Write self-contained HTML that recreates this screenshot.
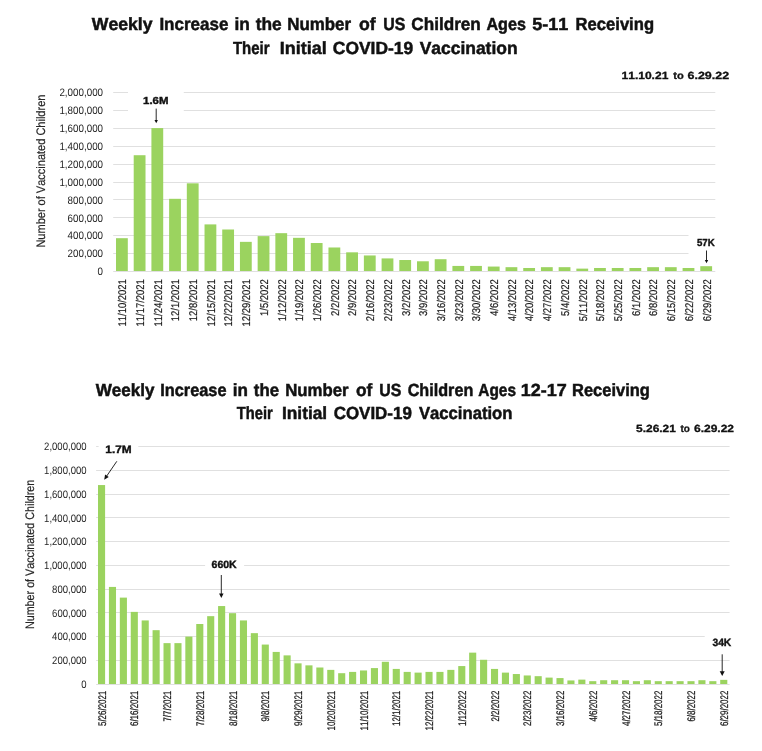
<!DOCTYPE html>
<html><head><meta charset="utf-8"><title>Weekly Increase in the Number of US Children Receiving Their Initial COVID-19 Vaccination</title>
<style>
html,body{margin:0;padding:0;background:#fff;}
svg{display:block;font-family:"Liberation Sans",sans-serif;font-kerning:none;}
svg text{font-kerning:none;white-space:pre;text-rendering:geometricPrecision;}
</style></head><body>
<svg width="762" height="751" viewBox="0 0 762 751">
<rect width="762" height="751" fill="#fff"/>
<line x1="113.20" y1="92.5" x2="715.30" y2="92.5" stroke="#e0e0e0" stroke-width="1"/>
<line x1="113.20" y1="110.5" x2="715.30" y2="110.5" stroke="#e0e0e0" stroke-width="1"/>
<line x1="113.20" y1="128.5" x2="715.30" y2="128.5" stroke="#e0e0e0" stroke-width="1"/>
<line x1="113.20" y1="146.5" x2="715.30" y2="146.5" stroke="#e0e0e0" stroke-width="1"/>
<line x1="113.20" y1="164.5" x2="715.30" y2="164.5" stroke="#e0e0e0" stroke-width="1"/>
<line x1="113.20" y1="182.5" x2="715.30" y2="182.5" stroke="#e0e0e0" stroke-width="1"/>
<line x1="113.20" y1="199.5" x2="715.30" y2="199.5" stroke="#e0e0e0" stroke-width="1"/>
<line x1="113.20" y1="217.5" x2="715.30" y2="217.5" stroke="#e0e0e0" stroke-width="1"/>
<line x1="113.20" y1="235.5" x2="715.30" y2="235.5" stroke="#e0e0e0" stroke-width="1"/>
<line x1="113.20" y1="253.5" x2="715.30" y2="253.5" stroke="#e0e0e0" stroke-width="1"/>
<line x1="113.20" y1="271.5" x2="715.30" y2="271.5" stroke="#e0e0e0" stroke-width="1"/>
<rect x="128.00" y="84.00" width="55.75" height="34.00" fill="#fff"/>
<rect x="688.50" y="230.00" width="30.00" height="28.00" fill="#fff"/>
<rect x="116.00" y="238.19" width="11.80" height="32.81" fill="#9bd35f"/>
<rect x="133.71" y="155.22" width="11.80" height="115.78" fill="#9bd35f"/>
<rect x="151.41" y="128.10" width="11.80" height="142.90" fill="#9bd35f"/>
<rect x="169.12" y="198.81" width="11.80" height="72.19" fill="#9bd35f"/>
<rect x="186.82" y="183.32" width="11.80" height="87.68" fill="#9bd35f"/>
<rect x="204.53" y="224.40" width="11.80" height="46.60" fill="#9bd35f"/>
<rect x="222.24" y="229.50" width="11.80" height="41.50" fill="#9bd35f"/>
<rect x="239.94" y="241.85" width="11.80" height="29.15" fill="#9bd35f"/>
<rect x="257.65" y="236.13" width="11.80" height="34.87" fill="#9bd35f"/>
<rect x="275.35" y="233.17" width="11.80" height="37.83" fill="#9bd35f"/>
<rect x="293.06" y="237.83" width="11.80" height="33.17" fill="#9bd35f"/>
<rect x="310.77" y="243.02" width="11.80" height="27.98" fill="#9bd35f"/>
<rect x="328.47" y="247.49" width="11.80" height="23.51" fill="#9bd35f"/>
<rect x="346.18" y="252.33" width="11.80" height="18.67" fill="#9bd35f"/>
<rect x="363.88" y="255.46" width="11.80" height="15.54" fill="#9bd35f"/>
<rect x="381.59" y="258.41" width="11.80" height="12.59" fill="#9bd35f"/>
<rect x="399.30" y="260.02" width="11.80" height="10.98" fill="#9bd35f"/>
<rect x="417.00" y="261.28" width="11.80" height="9.72" fill="#9bd35f"/>
<rect x="434.71" y="259.22" width="11.80" height="11.78" fill="#9bd35f"/>
<rect x="452.41" y="265.93" width="11.80" height="5.07" fill="#9bd35f"/>
<rect x="470.12" y="265.93" width="11.80" height="5.07" fill="#9bd35f"/>
<rect x="487.83" y="266.56" width="11.80" height="4.44" fill="#9bd35f"/>
<rect x="505.53" y="267.18" width="11.80" height="3.82" fill="#9bd35f"/>
<rect x="523.24" y="267.99" width="11.80" height="3.01" fill="#9bd35f"/>
<rect x="540.94" y="267.18" width="11.80" height="3.82" fill="#9bd35f"/>
<rect x="558.65" y="267.18" width="11.80" height="3.82" fill="#9bd35f"/>
<rect x="576.36" y="268.62" width="11.80" height="2.38" fill="#9bd35f"/>
<rect x="594.06" y="267.99" width="11.80" height="3.01" fill="#9bd35f"/>
<rect x="611.77" y="267.99" width="11.80" height="3.01" fill="#9bd35f"/>
<rect x="629.47" y="267.99" width="11.80" height="3.01" fill="#9bd35f"/>
<rect x="647.18" y="267.18" width="11.80" height="3.82" fill="#9bd35f"/>
<rect x="664.89" y="267.18" width="11.80" height="3.82" fill="#9bd35f"/>
<rect x="682.59" y="267.99" width="11.80" height="3.01" fill="#9bd35f"/>
<rect x="700.30" y="266.20" width="11.80" height="4.80" fill="#9bd35f"/>
<text x="91.83" y="29.90" font-size="17.6" font-weight="700" stroke="#111" stroke-width="0.5" fill="#111" textLength="60.71" lengthAdjust="spacingAndGlyphs">Weekly</text>
<text x="159.41" y="29.90" font-size="17.6" font-weight="700" stroke="#111" stroke-width="0.5" fill="#111" textLength="68.92" lengthAdjust="spacingAndGlyphs">Increase</text>
<text x="234.44" y="29.90" font-size="17.6" font-weight="700" stroke="#111" stroke-width="0.5" fill="#111" textLength="15.38" lengthAdjust="spacingAndGlyphs">in</text>
<text x="255.64" y="29.90" font-size="17.6" font-weight="700" stroke="#111" stroke-width="0.5" fill="#111" textLength="26.00" lengthAdjust="spacingAndGlyphs">the</text>
<text x="287.22" y="29.90" font-size="17.6" font-weight="700" stroke="#111" stroke-width="0.5" fill="#111" textLength="63.89" lengthAdjust="spacingAndGlyphs">Number</text>
<text x="359.06" y="29.90" font-size="17.6" font-weight="700" stroke="#111" stroke-width="0.5" fill="#111" textLength="16.65" lengthAdjust="spacingAndGlyphs">of</text>
<text x="383.20" y="29.90" font-size="17.6" font-weight="700" stroke="#111" stroke-width="0.5" fill="#111" textLength="22.08" lengthAdjust="spacingAndGlyphs">US</text>
<text x="411.35" y="29.90" font-size="17.6" font-weight="700" stroke="#111" stroke-width="0.5" fill="#111" textLength="69.46" lengthAdjust="spacingAndGlyphs">Children</text>
<text x="486.45" y="29.90" font-size="17.6" font-weight="700" stroke="#111" stroke-width="0.5" fill="#111" textLength="39.46" lengthAdjust="spacingAndGlyphs">Ages</text>
<text x="532.20" y="29.90" font-size="17.6" font-weight="700" stroke="#111" stroke-width="0.5" fill="#111" textLength="36.06" lengthAdjust="spacingAndGlyphs">5-11</text>
<text x="575.54" y="29.90" font-size="17.6" font-weight="700" stroke="#111" stroke-width="0.5" fill="#111" textLength="78.52" lengthAdjust="spacingAndGlyphs">Receiving</text>
<text x="232.88" y="54.10" font-size="17.6" font-weight="700" stroke="#111" stroke-width="0.5" fill="#111" textLength="36.59" lengthAdjust="spacingAndGlyphs">Their</text>
<text x="279.85" y="54.10" font-size="17.6" font-weight="700" stroke="#111" stroke-width="0.5" fill="#111" textLength="46.87" lengthAdjust="spacingAndGlyphs">Initial</text>
<text x="332.84" y="54.10" font-size="17.6" font-weight="700" stroke="#111" stroke-width="0.5" fill="#111" textLength="80.36" lengthAdjust="spacingAndGlyphs">COVID-19</text>
<text x="419.63" y="54.10" font-size="17.6" font-weight="700" stroke="#111" stroke-width="0.5" fill="#111" textLength="98.00" lengthAdjust="spacingAndGlyphs">Vaccination</text>
<text x="621.49" y="78.80" font-size="10.4" font-weight="700" stroke="#111" stroke-width="0.3" fill="#111" textLength="46.89" lengthAdjust="spacingAndGlyphs">11.10.21</text>
<text x="673.31" y="78.80" font-size="10.4" font-weight="700" stroke="#111" stroke-width="0.3" fill="#111" textLength="10.47" lengthAdjust="spacingAndGlyphs">to</text>
<text x="687.49" y="78.80" font-size="10.4" font-weight="700" stroke="#111" stroke-width="0.3" fill="#111" textLength="41.66" lengthAdjust="spacingAndGlyphs">6.29.22</text>
<text x="97.62" y="275.20" font-size="10.9" fill="#262626" textLength="5.46" lengthAdjust="spacingAndGlyphs">0</text>
<text x="67.59" y="257.30" font-size="10.9" fill="#262626" textLength="35.49" lengthAdjust="spacingAndGlyphs">200,000</text>
<text x="67.59" y="239.40" font-size="10.9" fill="#262626" textLength="35.49" lengthAdjust="spacingAndGlyphs">400,000</text>
<text x="67.59" y="221.50" font-size="10.9" fill="#262626" textLength="35.49" lengthAdjust="spacingAndGlyphs">600,000</text>
<text x="67.59" y="203.60" font-size="10.9" fill="#262626" textLength="35.49" lengthAdjust="spacingAndGlyphs">800,000</text>
<text x="59.41" y="185.70" font-size="10.9" fill="#262626" textLength="43.68" lengthAdjust="spacingAndGlyphs">1,000,000</text>
<text x="59.41" y="167.80" font-size="10.9" fill="#262626" textLength="43.68" lengthAdjust="spacingAndGlyphs">1,200,000</text>
<text x="59.41" y="149.90" font-size="10.9" fill="#262626" textLength="43.68" lengthAdjust="spacingAndGlyphs">1,400,000</text>
<text x="59.41" y="132.00" font-size="10.9" fill="#262626" textLength="43.68" lengthAdjust="spacingAndGlyphs">1,600,000</text>
<text x="59.41" y="114.10" font-size="10.9" fill="#262626" textLength="43.68" lengthAdjust="spacingAndGlyphs">1,800,000</text>
<text x="59.41" y="96.20" font-size="10.9" fill="#262626" textLength="43.68" lengthAdjust="spacingAndGlyphs">2,000,000</text>
<text transform="translate(45.00 247.60) rotate(-90)" x="0" y="0" font-size="12.3" stroke="#262626" stroke-width="0.2" fill="#262626" textLength="153.02" lengthAdjust="spacingAndGlyphs">Number of Vaccinated Children</text>
<text transform="translate(126.20 326.52) rotate(-90)" x="0" y="0" font-size="11.2" stroke="#1a1a1a" stroke-width="0.2" fill="#1a1a1a" textLength="47.38" lengthAdjust="spacingAndGlyphs">11/10/2021</text>
<text transform="translate(143.91 326.52) rotate(-90)" x="0" y="0" font-size="11.2" stroke="#1a1a1a" stroke-width="0.2" fill="#1a1a1a" textLength="47.38" lengthAdjust="spacingAndGlyphs">11/17/2021</text>
<text transform="translate(161.61 326.52) rotate(-90)" x="0" y="0" font-size="11.2" stroke="#1a1a1a" stroke-width="0.2" fill="#1a1a1a" textLength="47.38" lengthAdjust="spacingAndGlyphs">11/24/2021</text>
<text transform="translate(179.32 321.26) rotate(-90)" x="0" y="0" font-size="11.2" stroke="#1a1a1a" stroke-width="0.2" fill="#1a1a1a" textLength="42.12" lengthAdjust="spacingAndGlyphs">12/1/2021</text>
<text transform="translate(197.02 321.26) rotate(-90)" x="0" y="0" font-size="11.2" stroke="#1a1a1a" stroke-width="0.2" fill="#1a1a1a" textLength="42.12" lengthAdjust="spacingAndGlyphs">12/8/2021</text>
<text transform="translate(214.73 326.52) rotate(-90)" x="0" y="0" font-size="11.2" stroke="#1a1a1a" stroke-width="0.2" fill="#1a1a1a" textLength="47.38" lengthAdjust="spacingAndGlyphs">12/15/2021</text>
<text transform="translate(232.44 326.52) rotate(-90)" x="0" y="0" font-size="11.2" stroke="#1a1a1a" stroke-width="0.2" fill="#1a1a1a" textLength="47.38" lengthAdjust="spacingAndGlyphs">12/22/2021</text>
<text transform="translate(250.14 326.52) rotate(-90)" x="0" y="0" font-size="11.2" stroke="#1a1a1a" stroke-width="0.2" fill="#1a1a1a" textLength="47.38" lengthAdjust="spacingAndGlyphs">12/29/2021</text>
<text transform="translate(267.85 315.98) rotate(-90)" x="0" y="0" font-size="11.2" stroke="#1a1a1a" stroke-width="0.2" fill="#1a1a1a" textLength="36.85" lengthAdjust="spacingAndGlyphs">1/5/2022</text>
<text transform="translate(285.55 321.24) rotate(-90)" x="0" y="0" font-size="11.2" stroke="#1a1a1a" stroke-width="0.2" fill="#1a1a1a" textLength="42.12" lengthAdjust="spacingAndGlyphs">1/12/2022</text>
<text transform="translate(303.26 321.24) rotate(-90)" x="0" y="0" font-size="11.2" stroke="#1a1a1a" stroke-width="0.2" fill="#1a1a1a" textLength="42.12" lengthAdjust="spacingAndGlyphs">1/19/2022</text>
<text transform="translate(320.97 321.24) rotate(-90)" x="0" y="0" font-size="11.2" stroke="#1a1a1a" stroke-width="0.2" fill="#1a1a1a" textLength="42.12" lengthAdjust="spacingAndGlyphs">1/26/2022</text>
<text transform="translate(338.67 315.98) rotate(-90)" x="0" y="0" font-size="11.2" stroke="#1a1a1a" stroke-width="0.2" fill="#1a1a1a" textLength="36.85" lengthAdjust="spacingAndGlyphs">2/2/2022</text>
<text transform="translate(356.38 315.98) rotate(-90)" x="0" y="0" font-size="11.2" stroke="#1a1a1a" stroke-width="0.2" fill="#1a1a1a" textLength="36.85" lengthAdjust="spacingAndGlyphs">2/9/2022</text>
<text transform="translate(374.08 321.24) rotate(-90)" x="0" y="0" font-size="11.2" stroke="#1a1a1a" stroke-width="0.2" fill="#1a1a1a" textLength="42.12" lengthAdjust="spacingAndGlyphs">2/16/2022</text>
<text transform="translate(391.79 321.24) rotate(-90)" x="0" y="0" font-size="11.2" stroke="#1a1a1a" stroke-width="0.2" fill="#1a1a1a" textLength="42.12" lengthAdjust="spacingAndGlyphs">2/23/2022</text>
<text transform="translate(409.50 315.98) rotate(-90)" x="0" y="0" font-size="11.2" stroke="#1a1a1a" stroke-width="0.2" fill="#1a1a1a" textLength="36.85" lengthAdjust="spacingAndGlyphs">3/2/2022</text>
<text transform="translate(427.20 315.98) rotate(-90)" x="0" y="0" font-size="11.2" stroke="#1a1a1a" stroke-width="0.2" fill="#1a1a1a" textLength="36.85" lengthAdjust="spacingAndGlyphs">3/9/2022</text>
<text transform="translate(444.91 321.24) rotate(-90)" x="0" y="0" font-size="11.2" stroke="#1a1a1a" stroke-width="0.2" fill="#1a1a1a" textLength="42.12" lengthAdjust="spacingAndGlyphs">3/16/2022</text>
<text transform="translate(462.61 321.24) rotate(-90)" x="0" y="0" font-size="11.2" stroke="#1a1a1a" stroke-width="0.2" fill="#1a1a1a" textLength="42.12" lengthAdjust="spacingAndGlyphs">3/23/2022</text>
<text transform="translate(480.32 321.24) rotate(-90)" x="0" y="0" font-size="11.2" stroke="#1a1a1a" stroke-width="0.2" fill="#1a1a1a" textLength="42.12" lengthAdjust="spacingAndGlyphs">3/30/2022</text>
<text transform="translate(498.03 315.98) rotate(-90)" x="0" y="0" font-size="11.2" stroke="#1a1a1a" stroke-width="0.2" fill="#1a1a1a" textLength="36.85" lengthAdjust="spacingAndGlyphs">4/6/2022</text>
<text transform="translate(515.73 321.24) rotate(-90)" x="0" y="0" font-size="11.2" stroke="#1a1a1a" stroke-width="0.2" fill="#1a1a1a" textLength="42.12" lengthAdjust="spacingAndGlyphs">4/13/2022</text>
<text transform="translate(533.44 321.24) rotate(-90)" x="0" y="0" font-size="11.2" stroke="#1a1a1a" stroke-width="0.2" fill="#1a1a1a" textLength="42.12" lengthAdjust="spacingAndGlyphs">4/20/2022</text>
<text transform="translate(551.14 321.24) rotate(-90)" x="0" y="0" font-size="11.2" stroke="#1a1a1a" stroke-width="0.2" fill="#1a1a1a" textLength="42.12" lengthAdjust="spacingAndGlyphs">4/27/2022</text>
<text transform="translate(568.85 315.98) rotate(-90)" x="0" y="0" font-size="11.2" stroke="#1a1a1a" stroke-width="0.2" fill="#1a1a1a" textLength="36.85" lengthAdjust="spacingAndGlyphs">5/4/2022</text>
<text transform="translate(586.56 321.24) rotate(-90)" x="0" y="0" font-size="11.2" stroke="#1a1a1a" stroke-width="0.2" fill="#1a1a1a" textLength="42.12" lengthAdjust="spacingAndGlyphs">5/11/2022</text>
<text transform="translate(604.26 321.24) rotate(-90)" x="0" y="0" font-size="11.2" stroke="#1a1a1a" stroke-width="0.2" fill="#1a1a1a" textLength="42.12" lengthAdjust="spacingAndGlyphs">5/18/2022</text>
<text transform="translate(621.97 321.24) rotate(-90)" x="0" y="0" font-size="11.2" stroke="#1a1a1a" stroke-width="0.2" fill="#1a1a1a" textLength="42.12" lengthAdjust="spacingAndGlyphs">5/25/2022</text>
<text transform="translate(639.67 315.98) rotate(-90)" x="0" y="0" font-size="11.2" stroke="#1a1a1a" stroke-width="0.2" fill="#1a1a1a" textLength="36.85" lengthAdjust="spacingAndGlyphs">6/1/2022</text>
<text transform="translate(657.38 315.98) rotate(-90)" x="0" y="0" font-size="11.2" stroke="#1a1a1a" stroke-width="0.2" fill="#1a1a1a" textLength="36.85" lengthAdjust="spacingAndGlyphs">6/8/2022</text>
<text transform="translate(675.09 321.24) rotate(-90)" x="0" y="0" font-size="11.2" stroke="#1a1a1a" stroke-width="0.2" fill="#1a1a1a" textLength="42.12" lengthAdjust="spacingAndGlyphs">6/15/2022</text>
<text transform="translate(692.79 321.24) rotate(-90)" x="0" y="0" font-size="11.2" stroke="#1a1a1a" stroke-width="0.2" fill="#1a1a1a" textLength="42.12" lengthAdjust="spacingAndGlyphs">6/22/2022</text>
<text transform="translate(710.50 321.24) rotate(-90)" x="0" y="0" font-size="11.2" stroke="#1a1a1a" stroke-width="0.2" fill="#1a1a1a" textLength="42.12" lengthAdjust="spacingAndGlyphs">6/29/2022</text>
<text x="143.08" y="104.00" font-size="10.2" font-weight="700" stroke="#111" stroke-width="0.4" fill="#111" textLength="25.38" lengthAdjust="spacingAndGlyphs">1.6M</text>
<line x1="156.20" y1="108.60" x2="156.20" y2="120.90" stroke="#111" stroke-width="0.9"/>
<polygon points="156.20,123.30 154.50,119.90 157.90,119.90" fill="#111"/>
<text x="697.00" y="245.60" font-size="10.2" font-weight="700" stroke="#111" stroke-width="0.4" fill="#111" textLength="17.69" lengthAdjust="spacingAndGlyphs">57K</text>
<line x1="706.50" y1="250.50" x2="706.50" y2="260.90" stroke="#111" stroke-width="0.9"/>
<polygon points="706.50,263.30 704.80,259.90 708.20,259.90" fill="#111"/>
<line x1="96.10" y1="446.5" x2="729.60" y2="446.5" stroke="#e0e0e0" stroke-width="1"/>
<line x1="96.10" y1="470.5" x2="729.60" y2="470.5" stroke="#e0e0e0" stroke-width="1"/>
<line x1="96.10" y1="494.5" x2="729.60" y2="494.5" stroke="#e0e0e0" stroke-width="1"/>
<line x1="96.10" y1="517.5" x2="729.60" y2="517.5" stroke="#e0e0e0" stroke-width="1"/>
<line x1="96.10" y1="541.5" x2="729.60" y2="541.5" stroke="#e0e0e0" stroke-width="1"/>
<line x1="96.10" y1="565.5" x2="729.60" y2="565.5" stroke="#e0e0e0" stroke-width="1"/>
<line x1="96.10" y1="589.5" x2="729.60" y2="589.5" stroke="#e0e0e0" stroke-width="1"/>
<line x1="96.10" y1="612.5" x2="729.60" y2="612.5" stroke="#e0e0e0" stroke-width="1"/>
<line x1="96.10" y1="636.5" x2="729.60" y2="636.5" stroke="#e0e0e0" stroke-width="1"/>
<line x1="96.10" y1="660.5" x2="729.60" y2="660.5" stroke="#e0e0e0" stroke-width="1"/>
<line x1="96.10" y1="684.5" x2="729.60" y2="684.5" stroke="#e0e0e0" stroke-width="1"/>
<rect x="98.60" y="436.00" width="39.70" height="24.00" fill="#fff"/>
<rect x="205.10" y="555.00" width="39.00" height="21.00" fill="#fff"/>
<rect x="704.70" y="629.00" width="30.00" height="21.00" fill="#fff"/>
<rect x="98.00" y="485.06" width="7.10" height="198.94" fill="#9bd35f"/>
<rect x="108.92" y="586.92" width="7.10" height="97.08" fill="#9bd35f"/>
<rect x="119.83" y="597.61" width="7.10" height="86.39" fill="#9bd35f"/>
<rect x="130.75" y="611.88" width="7.10" height="72.12" fill="#9bd35f"/>
<rect x="141.66" y="620.43" width="7.10" height="63.57" fill="#9bd35f"/>
<rect x="152.58" y="630.18" width="7.10" height="53.82" fill="#9bd35f"/>
<rect x="163.50" y="643.13" width="7.10" height="40.87" fill="#9bd35f"/>
<rect x="174.41" y="643.13" width="7.10" height="40.87" fill="#9bd35f"/>
<rect x="185.33" y="636.60" width="7.10" height="47.40" fill="#9bd35f"/>
<rect x="196.24" y="624.00" width="7.10" height="60.00" fill="#9bd35f"/>
<rect x="207.16" y="616.16" width="7.10" height="67.84" fill="#9bd35f"/>
<rect x="218.08" y="606.05" width="7.10" height="77.95" fill="#9bd35f"/>
<rect x="228.99" y="613.18" width="7.10" height="70.82" fill="#9bd35f"/>
<rect x="239.91" y="620.43" width="7.10" height="63.57" fill="#9bd35f"/>
<rect x="250.82" y="633.15" width="7.10" height="50.85" fill="#9bd35f"/>
<rect x="261.74" y="644.56" width="7.10" height="39.44" fill="#9bd35f"/>
<rect x="272.66" y="651.93" width="7.10" height="32.07" fill="#9bd35f"/>
<rect x="283.57" y="655.38" width="7.10" height="28.62" fill="#9bd35f"/>
<rect x="294.49" y="663.34" width="7.10" height="20.66" fill="#9bd35f"/>
<rect x="305.40" y="665.36" width="7.10" height="18.64" fill="#9bd35f"/>
<rect x="316.32" y="667.50" width="7.10" height="16.50" fill="#9bd35f"/>
<rect x="327.24" y="669.88" width="7.10" height="14.12" fill="#9bd35f"/>
<rect x="338.15" y="673.20" width="7.10" height="10.80" fill="#9bd35f"/>
<rect x="349.07" y="671.90" width="7.10" height="12.10" fill="#9bd35f"/>
<rect x="359.98" y="670.47" width="7.10" height="13.53" fill="#9bd35f"/>
<rect x="370.90" y="668.09" width="7.10" height="15.91" fill="#9bd35f"/>
<rect x="381.82" y="661.79" width="7.10" height="22.21" fill="#9bd35f"/>
<rect x="392.73" y="668.92" width="7.10" height="15.08" fill="#9bd35f"/>
<rect x="403.65" y="671.90" width="7.10" height="12.10" fill="#9bd35f"/>
<rect x="414.56" y="672.61" width="7.10" height="11.39" fill="#9bd35f"/>
<rect x="425.48" y="671.90" width="7.10" height="12.10" fill="#9bd35f"/>
<rect x="436.40" y="671.90" width="7.10" height="12.10" fill="#9bd35f"/>
<rect x="447.31" y="669.88" width="7.10" height="14.12" fill="#9bd35f"/>
<rect x="458.23" y="666.07" width="7.10" height="17.93" fill="#9bd35f"/>
<rect x="469.14" y="652.64" width="7.10" height="31.36" fill="#9bd35f"/>
<rect x="480.06" y="659.77" width="7.10" height="24.23" fill="#9bd35f"/>
<rect x="490.98" y="668.92" width="7.10" height="15.08" fill="#9bd35f"/>
<rect x="501.89" y="672.61" width="7.10" height="11.39" fill="#9bd35f"/>
<rect x="512.81" y="674.04" width="7.10" height="9.96" fill="#9bd35f"/>
<rect x="523.72" y="675.46" width="7.10" height="8.54" fill="#9bd35f"/>
<rect x="534.64" y="676.17" width="7.10" height="7.83" fill="#9bd35f"/>
<rect x="545.56" y="677.60" width="7.10" height="6.40" fill="#9bd35f"/>
<rect x="556.47" y="678.08" width="7.10" height="5.92" fill="#9bd35f"/>
<rect x="567.39" y="680.45" width="7.10" height="3.55" fill="#9bd35f"/>
<rect x="578.30" y="679.62" width="7.10" height="4.38" fill="#9bd35f"/>
<rect x="589.22" y="681.17" width="7.10" height="2.83" fill="#9bd35f"/>
<rect x="600.14" y="680.22" width="7.10" height="3.78" fill="#9bd35f"/>
<rect x="611.05" y="680.22" width="7.10" height="3.78" fill="#9bd35f"/>
<rect x="621.97" y="680.22" width="7.10" height="3.78" fill="#9bd35f"/>
<rect x="632.88" y="681.17" width="7.10" height="2.83" fill="#9bd35f"/>
<rect x="643.80" y="680.22" width="7.10" height="3.78" fill="#9bd35f"/>
<rect x="654.72" y="681.17" width="7.10" height="2.83" fill="#9bd35f"/>
<rect x="665.63" y="681.17" width="7.10" height="2.83" fill="#9bd35f"/>
<rect x="676.55" y="681.17" width="7.10" height="2.83" fill="#9bd35f"/>
<rect x="687.46" y="681.17" width="7.10" height="2.83" fill="#9bd35f"/>
<rect x="698.38" y="680.22" width="7.10" height="3.78" fill="#9bd35f"/>
<rect x="709.30" y="681.17" width="7.10" height="2.83" fill="#9bd35f"/>
<rect x="720.21" y="679.86" width="7.10" height="4.14" fill="#9bd35f"/>
<text x="95.73" y="395.70" font-size="17.6" font-weight="700" stroke="#111" stroke-width="0.5" fill="#111" textLength="58.71" lengthAdjust="spacingAndGlyphs">Weekly</text>
<text x="160.26" y="395.70" font-size="17.6" font-weight="700" stroke="#111" stroke-width="0.5" fill="#111" textLength="66.25" lengthAdjust="spacingAndGlyphs">Increase</text>
<text x="232.86" y="395.70" font-size="17.6" font-weight="700" stroke="#111" stroke-width="0.5" fill="#111" textLength="15.15" lengthAdjust="spacingAndGlyphs">in</text>
<text x="253.85" y="395.70" font-size="17.6" font-weight="700" stroke="#111" stroke-width="0.5" fill="#111" textLength="25.18" lengthAdjust="spacingAndGlyphs">the</text>
<text x="285.13" y="395.70" font-size="17.6" font-weight="700" stroke="#111" stroke-width="0.5" fill="#111" textLength="63.38" lengthAdjust="spacingAndGlyphs">Number</text>
<text x="355.97" y="395.70" font-size="17.6" font-weight="700" stroke="#111" stroke-width="0.5" fill="#111" textLength="16.34" lengthAdjust="spacingAndGlyphs">of</text>
<text x="379.30" y="395.70" font-size="17.6" font-weight="700" stroke="#111" stroke-width="0.5" fill="#111" textLength="22.08" lengthAdjust="spacingAndGlyphs">US</text>
<text x="407.69" y="395.70" font-size="17.6" font-weight="700" stroke="#111" stroke-width="0.5" fill="#111" textLength="65.57" lengthAdjust="spacingAndGlyphs">Children</text>
<text x="478.27" y="395.70" font-size="17.6" font-weight="700" stroke="#111" stroke-width="0.5" fill="#111" textLength="37.72" lengthAdjust="spacingAndGlyphs">Ages</text>
<text x="520.82" y="395.70" font-size="17.6" font-weight="700" stroke="#111" stroke-width="0.5" fill="#111" textLength="46.02" lengthAdjust="spacingAndGlyphs">12-17</text>
<text x="572.05" y="395.70" font-size="17.6" font-weight="700" stroke="#111" stroke-width="0.5" fill="#111" textLength="77.80" lengthAdjust="spacingAndGlyphs">Receiving</text>
<text x="236.79" y="419.30" font-size="17.6" font-weight="700" stroke="#111" stroke-width="0.5" fill="#111" textLength="35.89" lengthAdjust="spacingAndGlyphs">Their</text>
<text x="281.99" y="419.30" font-size="17.6" font-weight="700" stroke="#111" stroke-width="0.5" fill="#111" textLength="45.18" lengthAdjust="spacingAndGlyphs">Initial</text>
<text x="333.65" y="419.30" font-size="17.6" font-weight="700" stroke="#111" stroke-width="0.5" fill="#111" textLength="78.23" lengthAdjust="spacingAndGlyphs">COVID-19</text>
<text x="418.94" y="419.30" font-size="17.6" font-weight="700" stroke="#111" stroke-width="0.5" fill="#111" textLength="93.55" lengthAdjust="spacingAndGlyphs">Vaccination</text>
<text x="636.08" y="431.50" font-size="10.4" font-weight="700" stroke="#111" stroke-width="0.3" fill="#111" textLength="39.80" lengthAdjust="spacingAndGlyphs">5.26.21</text>
<text x="680.43" y="431.50" font-size="10.4" font-weight="700" stroke="#111" stroke-width="0.3" fill="#111" textLength="9.41" lengthAdjust="spacingAndGlyphs">to</text>
<text x="694.01" y="431.50" font-size="10.4" font-weight="700" stroke="#111" stroke-width="0.3" fill="#111" textLength="40.02" lengthAdjust="spacingAndGlyphs">6.29.22</text>
<text x="81.27" y="687.90" font-size="10.9" fill="#262626" textLength="5.31" lengthAdjust="spacingAndGlyphs">0</text>
<text x="52.08" y="664.13" font-size="10.9" fill="#262626" textLength="34.49" lengthAdjust="spacingAndGlyphs">200,000</text>
<text x="52.08" y="640.36" font-size="10.9" fill="#262626" textLength="34.49" lengthAdjust="spacingAndGlyphs">400,000</text>
<text x="52.08" y="616.59" font-size="10.9" fill="#262626" textLength="34.49" lengthAdjust="spacingAndGlyphs">600,000</text>
<text x="52.08" y="592.82" font-size="10.9" fill="#262626" textLength="34.49" lengthAdjust="spacingAndGlyphs">800,000</text>
<text x="44.12" y="569.05" font-size="10.9" fill="#262626" textLength="42.45" lengthAdjust="spacingAndGlyphs">1,000,000</text>
<text x="44.12" y="545.28" font-size="10.9" fill="#262626" textLength="42.45" lengthAdjust="spacingAndGlyphs">1,200,000</text>
<text x="44.12" y="521.51" font-size="10.9" fill="#262626" textLength="42.45" lengthAdjust="spacingAndGlyphs">1,400,000</text>
<text x="44.12" y="497.74" font-size="10.9" fill="#262626" textLength="42.45" lengthAdjust="spacingAndGlyphs">1,600,000</text>
<text x="44.12" y="473.97" font-size="10.9" fill="#262626" textLength="42.45" lengthAdjust="spacingAndGlyphs">1,800,000</text>
<text x="44.12" y="450.20" font-size="10.9" fill="#262626" textLength="42.45" lengthAdjust="spacingAndGlyphs">2,000,000</text>
<text transform="translate(34.00 629.08) rotate(-90)" x="0" y="0" font-size="12.3" stroke="#262626" stroke-width="0.2" fill="#262626" textLength="149.38" lengthAdjust="spacingAndGlyphs">Number of Vaccinated Children</text>
<text transform="translate(105.65 726.02) rotate(-90)" x="0" y="0" font-size="11.0" stroke="#1a1a1a" stroke-width="0.25" fill="#1a1a1a" textLength="35.31" lengthAdjust="spacingAndGlyphs">5/26/2021</text>
<text transform="translate(138.40 726.02) rotate(-90)" x="0" y="0" font-size="11.0" stroke="#1a1a1a" stroke-width="0.25" fill="#1a1a1a" textLength="35.31" lengthAdjust="spacingAndGlyphs">6/16/2021</text>
<text transform="translate(171.15 721.60) rotate(-90)" x="0" y="0" font-size="11.0" stroke="#1a1a1a" stroke-width="0.25" fill="#1a1a1a" textLength="30.89" lengthAdjust="spacingAndGlyphs">7/7/2021</text>
<text transform="translate(203.89 726.02) rotate(-90)" x="0" y="0" font-size="11.0" stroke="#1a1a1a" stroke-width="0.25" fill="#1a1a1a" textLength="35.31" lengthAdjust="spacingAndGlyphs">7/28/2021</text>
<text transform="translate(236.64 726.02) rotate(-90)" x="0" y="0" font-size="11.0" stroke="#1a1a1a" stroke-width="0.25" fill="#1a1a1a" textLength="35.31" lengthAdjust="spacingAndGlyphs">8/18/2021</text>
<text transform="translate(269.39 721.60) rotate(-90)" x="0" y="0" font-size="11.0" stroke="#1a1a1a" stroke-width="0.25" fill="#1a1a1a" textLength="30.89" lengthAdjust="spacingAndGlyphs">9/8/2021</text>
<text transform="translate(302.14 726.02) rotate(-90)" x="0" y="0" font-size="11.0" stroke="#1a1a1a" stroke-width="0.25" fill="#1a1a1a" textLength="35.31" lengthAdjust="spacingAndGlyphs">9/29/2021</text>
<text transform="translate(334.89 730.43) rotate(-90)" x="0" y="0" font-size="11.0" stroke="#1a1a1a" stroke-width="0.25" fill="#1a1a1a" textLength="39.72" lengthAdjust="spacingAndGlyphs">10/20/2021</text>
<text transform="translate(367.63 730.43) rotate(-90)" x="0" y="0" font-size="11.0" stroke="#1a1a1a" stroke-width="0.25" fill="#1a1a1a" textLength="39.72" lengthAdjust="spacingAndGlyphs">11/10/2021</text>
<text transform="translate(400.38 726.02) rotate(-90)" x="0" y="0" font-size="11.0" stroke="#1a1a1a" stroke-width="0.25" fill="#1a1a1a" textLength="35.31" lengthAdjust="spacingAndGlyphs">12/1/2021</text>
<text transform="translate(433.13 730.43) rotate(-90)" x="0" y="0" font-size="11.0" stroke="#1a1a1a" stroke-width="0.25" fill="#1a1a1a" textLength="39.72" lengthAdjust="spacingAndGlyphs">12/22/2021</text>
<text transform="translate(465.88 726.01) rotate(-90)" x="0" y="0" font-size="11.0" stroke="#1a1a1a" stroke-width="0.25" fill="#1a1a1a" textLength="35.31" lengthAdjust="spacingAndGlyphs">1/12/2022</text>
<text transform="translate(498.63 721.59) rotate(-90)" x="0" y="0" font-size="11.0" stroke="#1a1a1a" stroke-width="0.25" fill="#1a1a1a" textLength="30.89" lengthAdjust="spacingAndGlyphs">2/2/2022</text>
<text transform="translate(531.37 726.01) rotate(-90)" x="0" y="0" font-size="11.0" stroke="#1a1a1a" stroke-width="0.25" fill="#1a1a1a" textLength="35.31" lengthAdjust="spacingAndGlyphs">2/23/2022</text>
<text transform="translate(564.12 726.01) rotate(-90)" x="0" y="0" font-size="11.0" stroke="#1a1a1a" stroke-width="0.25" fill="#1a1a1a" textLength="35.31" lengthAdjust="spacingAndGlyphs">3/16/2022</text>
<text transform="translate(596.87 721.59) rotate(-90)" x="0" y="0" font-size="11.0" stroke="#1a1a1a" stroke-width="0.25" fill="#1a1a1a" textLength="30.89" lengthAdjust="spacingAndGlyphs">4/6/2022</text>
<text transform="translate(629.62 726.01) rotate(-90)" x="0" y="0" font-size="11.0" stroke="#1a1a1a" stroke-width="0.25" fill="#1a1a1a" textLength="35.31" lengthAdjust="spacingAndGlyphs">4/27/2022</text>
<text transform="translate(662.37 726.01) rotate(-90)" x="0" y="0" font-size="11.0" stroke="#1a1a1a" stroke-width="0.25" fill="#1a1a1a" textLength="35.31" lengthAdjust="spacingAndGlyphs">5/18/2022</text>
<text transform="translate(695.11 721.59) rotate(-90)" x="0" y="0" font-size="11.0" stroke="#1a1a1a" stroke-width="0.25" fill="#1a1a1a" textLength="30.89" lengthAdjust="spacingAndGlyphs">6/8/2022</text>
<text transform="translate(727.86 726.01) rotate(-90)" x="0" y="0" font-size="11.0" stroke="#1a1a1a" stroke-width="0.25" fill="#1a1a1a" textLength="35.31" lengthAdjust="spacingAndGlyphs">6/29/2022</text>
<text x="105.35" y="452.90" font-size="10.8" font-weight="700" stroke="#111" stroke-width="0.4" fill="#111" textLength="26.34" lengthAdjust="spacingAndGlyphs">1.7M</text>
<line x1="116.80" y1="461.30" x2="106.35" y2="476.56" stroke="#111" stroke-width="0.9"/>
<polygon points="104.20,479.70 105.10,474.50 108.73,476.98" fill="#111"/>
<text x="211.62" y="567.90" font-size="10.5" font-weight="700" stroke="#111" stroke-width="0.4" fill="#111" textLength="25.08" lengthAdjust="spacingAndGlyphs">660K</text>
<line x1="221.30" y1="575.00" x2="221.30" y2="594.60" stroke="#111" stroke-width="0.9"/>
<polygon points="221.30,598.10 219.05,593.60 223.55,593.60" fill="#111"/>
<text x="712.46" y="645.50" font-size="10.6" font-weight="700" stroke="#111" stroke-width="0.4" fill="#111" textLength="18.83" lengthAdjust="spacingAndGlyphs">34K</text>
<line x1="722.20" y1="654.30" x2="722.20" y2="672.20" stroke="#111" stroke-width="0.9"/>
<polygon points="722.20,676.00 719.70,671.20 724.70,671.20" fill="#111"/>
</svg>
</body></html>
